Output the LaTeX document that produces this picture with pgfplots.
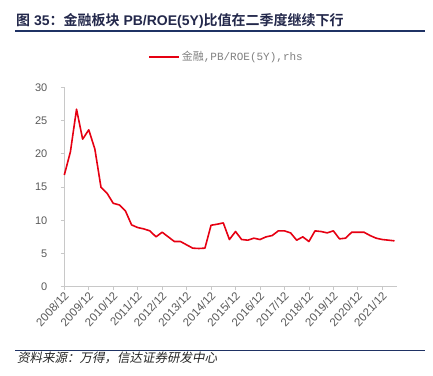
\documentclass[border=0pt]{standalone}
\usepackage{pgfplots}
\pgfplotsset{compat=1.18}
\usepackage{fontspec}
\setmainfont{Liberation Sans}
\newfontfamily\cjk[BoldFont={Noto Sans CJK SC Bold}]{Noto Sans CJK SC}
\newfontfamily\cjkit[FakeSlant=0.2]{Noto Sans CJK SC}
\newfontfamily\legmono{Liberation Mono}
\definecolor{navy}{RGB}{31,50,100}
\definecolor{titlec}{RGB}{35,40,75}
\definecolor{linered}{RGB}{230,0,18}
\definecolor{axgray}{RGB}{200,200,200}
\definecolor{labgray}{RGB}{89,89,89}
\definecolor{leggray}{RGB}{128,128,128}
\begin{document}
\begin{tikzpicture}[x=1bp,y=1bp]
\path[use as bounding box] (0,0) rectangle (433,375);
\draw[navy, line width=1.2bp] (15,344) -- (425,344);
\node[anchor=base west, inner sep=0, text=titlec, font=\fontsize{14bp}{16bp}\selectfont\bfseries] at (16,350)
  {{\cjk 图} 35{\cjk ：}{\cjk 金融板块} PB/ROE(5Y){\cjk 比值在二季度继续下行}};
\draw[navy, line width=1.2bp] (15,24.3) -- (425,24.3);
\node[anchor=base west, inner sep=0, text=black!85, font=\fontsize{12.5bp}{14bp}\selectfont\cjkit] at (17,13)
  {资料来源：万得，信达证券研发中心};
\begin{axis}[
  at={(64.3bp,88.3bp)}, anchor=south west,
  scale only axis, width=332.4bp, height=199.4bp,
  xmin=0, xmax=54.36, ymin=0, ymax=30,
  axis x line*=bottom, axis y line*=left,
  axis line style={draw=axgray, line width=0.8bp},
  tick style={draw=axgray, line width=0.8bp},
  tick align=outside, major tick length=3.5bp,
  xtick={0,4,...,52},
  xticklabels={2008/12,2009/12,2010/12,2011/12,2012/12,2013/12,2014/12,2015/12,2016/12,2017/12,2018/12,2019/12,2020/12,2021/12},
  ytick={0,5,...,30},
  /pgf/number format/assume math mode=true,
  xticklabel style={rotate=47, anchor=east, inner sep=1bp, yshift=-4bp, font=\fontsize{11.5bp}{13bp}\selectfont, text=labgray},
  yticklabel style={xshift=-10bp, font=\fontsize{11bp}{12bp}\selectfont, text=labgray},
  legend style={at={(0.488,1.153)}, anchor=center, draw=none, fill=none,
    font=\fontsize{11bp}{12bp}\selectfont, text=leggray},
  legend image code/.code={\draw[#1] (0bp,0bp) -- (30bp,0bp);},
  clip=false,
]
\addplot[linered, line width=1.6bp, line join=round] coordinates {
(0,16.8) (1,20.3) (2,26.7) (3,22.2) (4,23.6) (5,20.7) (6,14.95) (7,14.05)
(8,12.55) (9,12.3) (10,11.4) (11,9.3) (12,8.9) (13,8.7) (14,8.4) (15,7.5)
(16,8.2) (17,7.5) (18,6.8) (19,6.8) (20,6.3) (21,5.8) (22,5.75) (23,5.8)
(24,9.25) (25,9.4) (26,9.6) (27,7.1) (28,8.3) (29,7.1) (30,7.0) (31,7.3)
(32,7.1) (33,7.5) (34,7.7) (35,8.4) (36,8.4) (37,8.1) (38,7.0) (39,7.5)
(40,6.8) (41,8.4) (42,8.3) (43,8.1) (44,8.4) (45,7.2) (46,7.3) (47,8.2)
(48,8.2) (49,8.2) (50,7.7) (51,7.3) (52,7.1) (53,7.0) (54,6.9)
};
\addlegendentry{{\cjk 金融}{\legmono ,PB/ROE(5Y),rhs}}
\end{axis}
\end{tikzpicture}
\end{document}
